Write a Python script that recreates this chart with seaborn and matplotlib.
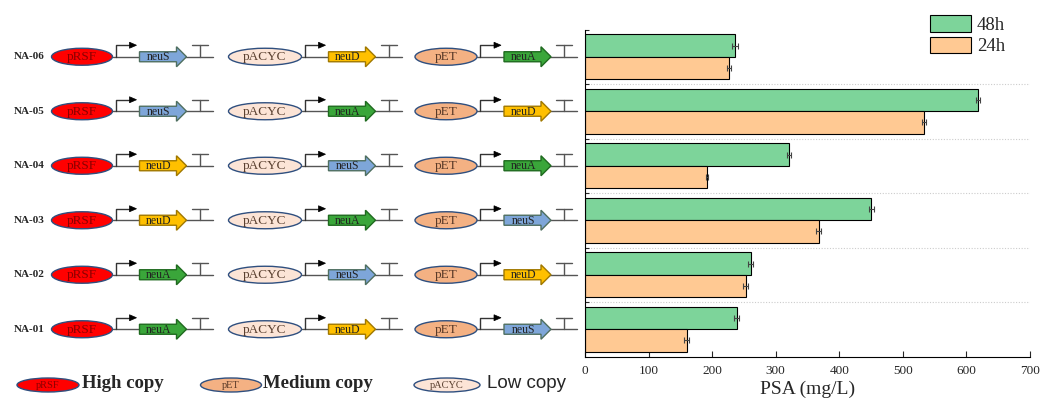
import numpy as np
import pandas as pd
import matplotlib
matplotlib.use("Agg")
import matplotlib.pyplot as plt
import seaborn as sns
from matplotlib.patches import Ellipse, Polygon

# Data
strains = ["NA-06", "NA-05", "NA-04", "NA-03", "NA-02", "NA-01"]
psa_48h = [236, 618, 321, 450, 261, 239]
psa_24h = [226, 533, 192, 368, 253, 160]
err_48h = [5, 3, 3, 4, 4, 4]
err_24h = [3, 3, 2, 4, 4, 4]
times = ["48h", "24h"]

# Construct layout: plasmid backbone per module, gene carried in each module
plasmids = ["pRSF", "pACYC", "pET"]
genes = [
    ["neuS", "neuD", "neuA"],
    ["neuS", "neuA", "neuD"],
    ["neuD", "neuS", "neuA"],
    ["neuD", "neuA", "neuS"],
    ["neuA", "neuS", "neuD"],
    ["neuA", "neuD", "neuS"],
]
copy_plasmids = ["pRSF", "pET", "pACYC"]
copy_labels = ["High copy", "Medium copy", "Low copy"]

plasmid_fc = {"pRSF": "#FF0000", "pACYC": "#FCE4D6", "pET": "#F4B183"}
plasmid_tc = {"pRSF": "#8B0000", "pACYC": "#5A4030", "pET": "#5A3A28"}
gene_fc = {"neuS": "#7EA6D9", "neuD": "#FFC000", "neuA": "#3AA63A"}
gene_ec = {"neuS": "#4F6F60", "neuD": "#A07800", "neuA": "#1F6A1F"}

sns.set_style("ticks")
plt.rcParams["font.family"] = ["Liberation Serif", "DejaVu Serif"]

W, H = 1043, 401
fig = plt.figure(figsize=(W / 100, H / 100), dpi=100)

# ---- bar chart ----
ax = fig.add_axes([585 / W, 1 - 356.5 / H, 445 / W, 327 / H], zorder=1)
df = pd.DataFrame({
    "Strain": strains * 2,
    "Time": ["48h"] * len(strains) + ["24h"] * len(strains),
    "PSA": psa_48h + psa_24h,
})
sns.barplot(data=df, x="PSA", y="Strain", hue="Time", order=strains,
            hue_order=times, palette=["#7DD49A", "#FFC993"], orient="h",
            width=0.82, errorbar=None, edgecolor="black", linewidth=0.8,
            saturation=1, ax=ax)
ax.set_xlim(0, 700)
ax.set_ylim(len(strains) - 0.5, -0.5)

for cont, errs in zip(ax.containers, [err_48h, err_24h]):
    xs = [b.get_width() for b in cont]
    ys = [b.get_y() + b.get_height() / 2 for b in cont]
    ax.errorbar(xs, ys, xerr=errs, fmt="none", ecolor="#444444",
                elinewidth=0.8, capsize=2.5, capthick=0.8)

for b in np.arange(0.5, len(strains) - 0.5, 1.0):
    ax.axhline(b, color="#CCCCCC", ls=(0, (1, 1.5)), lw=0.8, zorder=0)

ax.set_yticks(np.arange(-0.5, len(strains) - 0.5, 1.0))
ax.set_yticklabels([])
ax.set_ylabel("")
ax.set_xticks(range(0, 701, 100))
ax.tick_params(axis="x", direction="in", length=4, width=0.8, labelsize=9.5, pad=6)
ax.tick_params(axis="y", direction="in", length=3, width=0.8)
ax.set_xlabel("PSA (mg/L)", fontsize=14, labelpad=3)
for s in ["top", "right"]:
    ax.spines[s].set_visible(False)
for s in ["left", "bottom"]:
    ax.spines[s].set_linewidth(0.8)
    ax.spines[s].set_color("black")
ax.set_facecolor("none")
ax.legend(loc="upper left", bbox_to_anchor=(930 / W, 1 - 15 / H),
          bbox_transform=fig.transFigure, frameon=False, fontsize=13.5,
          handlelength=2.2, handleheight=1.0, handletextpad=0.3,
          labelspacing=0.15, borderpad=0, borderaxespad=0)

# ---- construct diagram ----
dg = fig.add_axes([0, 0, 1, 1], zorder=0)
dg.set_xlim(0, W)
dg.set_ylim(H, 0)
dg.axis("off")

ell_cx = [82, 265, 446]
ell_w = [61, 73, 62]


def draw_plasmid(x, y, name, w, h, fs):
    dg.add_patch(Ellipse((x, y), w, h, fc=plasmid_fc[name], ec="#2F4F7F", lw=1.0, zorder=3))
    dg.text(x, y + 0.5, name, ha="center", va="center", fontsize=fs,
            color=plasmid_tc[name], zorder=4)


def draw_module(cx, w, y, plasmid, gene):
    r = cx + w / 2
    dg.plot([r, r + 100], [y, y], color="#555555", lw=1.0, zorder=1)
    draw_plasmid(cx, y, plasmid, w, 17, 9.5)
    # promoter
    dg.plot([r + 3, r + 3, r + 18], [y, y - 11.5, y - 11.5], color="#333333", lw=1.0, zorder=2)
    dg.add_patch(Polygon([(r + 17, y - 14.5), (r + 24, y - 11.5), (r + 17, y - 8.5)],
                         closed=True, fc="black", ec="black", lw=0.5, zorder=2))
    # gene arrow
    g0, g1, g2 = r + 27, r + 64, r + 74
    dg.add_patch(Polygon([(g0, y - 5), (g1, y - 5), (g1, y - 10), (g2, y),
                          (g1, y + 10), (g1, y + 5), (g0, y + 5)], closed=True,
                         fc=gene_fc[gene], ec=gene_ec[gene], lw=1.0, zorder=3))
    dg.text((g0 + g1) / 2 + 1, y + 0.5, gene, ha="center", va="center",
            fontsize=8.5, color="#222222", zorder=4)
    # terminator
    dg.plot([r + 87, r + 87], [y, y - 11.5], color="#555555", lw=1.0, zorder=2)
    dg.plot([r + 79, r + 95], [y - 11.5, y - 11.5], color="#555555", lw=1.0, zorder=2)


for i, strain in enumerate(strains):
    yrow = H - ax.transData.transform((0, i))[1]
    dg.text(29, yrow, strain, ha="center", va="center", fontsize=8, fontweight="bold")
    for j in range(3):
        draw_module(ell_cx[j], ell_w[j], yrow, plasmids[j], genes[i][j])

# copy-number key
key_x = [48, 231, 447]
key_w = [62, 61, 66]
key_txt_x = [82, 263, 487]
for k in range(3):
    draw_plasmid(key_x[k], 385, copy_plasmids[k], key_w[k], 14, 7.5)
    if k < 2:
        dg.text(key_txt_x[k], 384, copy_labels[k], ha="left", va="center",
                fontsize=13.5, fontweight="bold")
    else:
        dg.text(key_txt_x[k], 384, copy_labels[k], ha="left", va="center",
                fontsize=13.5, family=["Liberation Sans", "DejaVu Sans"])

fig.savefig("out.png", dpi=100)
